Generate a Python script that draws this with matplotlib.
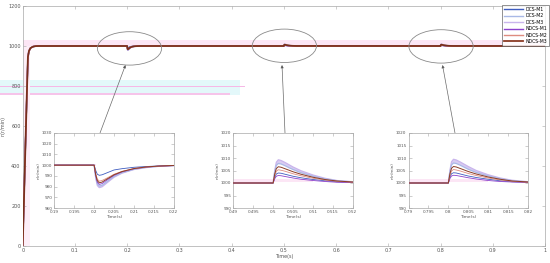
import matplotlib.pyplot as plt
from matplotlib.patches import Ellipse, Rectangle
import numpy as np

# series names / colours
labels = ['DCS-M1', 'DCS-M2', 'DCS-M3', 'NDCS-M1', 'NDCS-M2', 'NDCS-M3']
colors = ['#3e5cc0', '#a9b9e6', '#c9b5ec', '#8c42cc', '#de8c80', '#8b3b25']

# start-up (same for every controller)
t_start = [0, 0.002, 0.004, 0.006, 0.008, 0.010, 0.012, 0.015, 0.02, 0.025, 0.03]
n_start = [0, 190, 385, 575, 765, 945, 975, 990, 997, 999.5, 1000]

# load disturbances at these instants
event_times = [0.2, 0.5, 0.8]
dt = [0, 0.0004, 0.0008, 0.0013, 0.002, 0.003, 0.004, 0.005, 0.007, 0.010, 0.013, 0.016, 0.020, 0.025]

# speed deviation (r/min) after each event
dev_02 = {
    'DCS-M1':  [0, -5, -8.5, -9.5, -9, -7.5, -6, -4.5, -3.3, -2, -1.3, -0.8, -0.3, 0],
    'DCS-M2':  [0, -11, -17.5, -19.5, -18.8, -16, -13.2, -10.5, -7, -3.8, -2.1, -1.1, -0.4, 0],
    'DCS-M3':  [0, -12, -19, -21, -20.2, -17.2, -14.2, -11.3, -7.5, -4.1, -2.3, -1.2, -0.5, 0],
    'NDCS-M1': [0, -10, -16, -18, -17.2, -14.5, -12, -9.5, -6.3, -3.4, -1.9, -1, -0.4, 0],
    'NDCS-M2': [0, -8, -13, -15, -14.3, -12.5, -10.5, -8.5, -5.8, -3.2, -1.8, -1, -0.4, 0],
    'NDCS-M3': [0, -9, -14.5, -16.5, -15.8, -13.5, -11.3, -9, -6, -3.2, -1.7, -0.9, -0.3, 0],
}
dev_05 = {
    'DCS-M1':  [0, 2.2, 3.6, 4.0, 3.9, 3.5, 3.1, 2.7, 2.1, 1.4, 0.9, 0.5, 0.2, 0.1],
    'DCS-M2':  [0, 4.3, 7.0, 7.8, 7.6, 6.9, 6.1, 5.4, 4.1, 2.7, 1.6, 0.9, 0.4, 0.2],
    'DCS-M3':  [0, 5.0, 8.3, 9.3, 9.0, 8.2, 7.3, 6.4, 4.9, 3.2, 1.9, 1.0, 0.5, 0.2],
    'NDCS-M1': [0, 1.7, 2.7, 3.0, 2.9, 2.6, 2.3, 2.0, 1.5, 1.0, 0.6, 0.3, 0.2, 0.1],
    'NDCS-M2': [0, 2.9, 4.7, 5.3, 5.1, 4.7, 4.2, 3.7, 2.9, 1.9, 1.2, 0.7, 0.3, 0.1],
    'NDCS-M3': [0, 3.6, 5.8, 6.5, 6.3, 5.7, 5.1, 4.5, 3.5, 2.3, 1.4, 0.8, 0.4, 0.2],
}
dev_08 = {
    'DCS-M1':  [0, 2.3, 3.7, 4.1, 4.0, 3.6, 3.2, 2.8, 2.2, 1.5, 0.9, 0.5, 0.3, 0.1],
    'DCS-M2':  [0, 4.4, 7.2, 8.0, 7.8, 7.1, 6.3, 5.5, 4.2, 2.8, 1.7, 0.9, 0.4, 0.2],
    'DCS-M3':  [0, 5.1, 8.5, 9.5, 9.2, 8.4, 7.5, 6.6, 5.0, 3.3, 2.0, 1.1, 0.5, 0.2],
    'NDCS-M1': [0, 1.8, 2.8, 3.1, 3.0, 2.7, 2.4, 2.1, 1.6, 1.0, 0.6, 0.4, 0.2, 0.1],
    'NDCS-M2': [0, 3.0, 4.8, 5.4, 5.2, 4.8, 4.3, 3.8, 3.0, 2.0, 1.2, 0.7, 0.3, 0.1],
    'NDCS-M3': [0, 3.7, 5.9, 6.6, 6.4, 5.8, 5.2, 4.6, 3.6, 2.4, 1.5, 0.8, 0.4, 0.2],
}
devs = [dev_02, dev_05, dev_08]

# inset ranges
inset_xlim = [(0.19, 0.22), (0.49, 0.52), (0.79, 0.82)]
inset_ylim = [(960, 1030), (990, 1020), (990, 1020)]
inset_xticks = [[0.19, 0.195, 0.2, 0.205, 0.21, 0.215, 0.22],
                [0.49, 0.495, 0.5, 0.505, 0.51, 0.515, 0.52],
                [0.79, 0.795, 0.8, 0.805, 0.81, 0.815, 0.82]]
inset_xticklabels = [['0.19', '0.195', '0.2', '0.205', '0.21', '0.215', '0.22'],
                     ['0.49', '0.495', '0.5', '0.505', '0.51', '0.515', '0.52'],
                     ['0.79', '0.795', '0.8', '0.805', '0.81', '0.815', '0.82']]
inset_yticks = [[960, 970, 980, 990, 1000, 1010, 1020, 1030],
                [990, 995, 1000, 1005, 1010, 1015, 1020],
                [990, 995, 1000, 1005, 1010, 1015, 1020]]
# faint pink band seen behind the flat part in the zooms
inset_band = [(0.19, 0.2005, 999.0, 1001.5), (0.49, 0.51, 1000.3, 1001.8), (0.79, 0.81, 1000.3, 1001.8)]


def build(name):
    t = list(t_start)
    n = list(n_start)
    for te, dev in zip(event_times, devs):
        t += [te - 0.02] + [te + d for d in dt]
        n += [1000] + [1000 + v for v in dev[name]]
    t.append(1.0)
    n.append(1000)
    return np.array(t), np.array(n)


series = {name: build(name) for name in labels}
lw = {'DCS-M1': 0.6, 'DCS-M2': 0.9, 'DCS-M3': 0.9, 'NDCS-M1': 0.6, 'NDCS-M2': 0.6, 'NDCS-M3': 0.7}
zo = {'DCS-M3': 2, 'DCS-M2': 2.1, 'DCS-M1': 3, 'NDCS-M1': 3.1, 'NDCS-M2': 3.2, 'NDCS-M3': 3.3}

GRAY = '#a8a8a8'
TXT = '#555555'


def style(ax, fs):
    for s in ax.spines.values():
        s.set_color(GRAY)
        s.set_linewidth(0.5)
    ax.tick_params(direction='in', top=True, right=True, length=2, width=0.4,
                   color=GRAY, labelsize=fs, labelcolor=TXT, pad=1.5)


fig = plt.figure(figsize=(5.5, 2.63), dpi=100)

# rendering glitches visible in the reference
fig.patches.append(Rectangle((0, 1 - 95 / 263), 240 / 550, 15 / 263, transform=fig.transFigure,
                             facecolor='#e3f8fa', edgecolor='none', zorder=-5))
fig.patches.append(Rectangle((0, 1 - 87 / 263), 245 / 550, 1.2 / 263, transform=fig.transFigure,
                             facecolor='#f6b8e6', edgecolor='none', zorder=-4))
fig.patches.append(Rectangle((0, 1 - 94.5 / 263), 230 / 550, 1.2 / 263, transform=fig.transFigure,
                             facecolor='#f6c4ea', edgecolor='none', zorder=-4))

ax = fig.add_axes([22.7 / 550, 1 - 246 / 263, 522.3 / 550, 240 / 263])
ax.patch.set_alpha(0)
ax.fill_between([0.0, 1.0], 998, 1030, color='#fce6f5', lw=0, zorder=1)
ax.fill_between([-0.008, 0.014], 0, 1000, color='#fdeef8', lw=0, zorder=1)
for name, c in zip(labels, colors):
    t, n = series[name]
    ax.plot(t, n, color=c, lw=1.3 if name == 'NDCS-M3' else 1.0, label=name, zorder=zo[name])
ax.plot(series['NDCS-M3'][0], series['NDCS-M3'][1], color='#5a2010', lw=0.3, zorder=4)
ax.set_xlim(0, 1)
ax.set_ylim(0, 1200)
ax.set_xticks(np.arange(0, 1.01, 0.1))
ax.set_xticklabels(['0', '0.1', '0.2', '0.3', '0.4', '0.5', '0.6', '0.7', '0.8', '0.9', '1'])
ax.set_yticks([0, 200, 400, 600, 800, 1000, 1200])
style(ax, 3.5)
ax.set_xlabel('Time(s)', fontsize=3.5, color=TXT, labelpad=1)
ax.set_ylabel('n(r/min)', fontsize=3.5, color=TXT, labelpad=2)

leg = ax.legend(loc='upper right', bbox_to_anchor=(549 / 550, 1 - 5 / 263),
                bbox_transform=fig.transFigure, fontsize=3.3, frameon=True,
                fancybox=False, edgecolor='#404040', handlelength=4.2,
                labelspacing=0.3, borderpad=0.45, handletextpad=0.5,
                borderaxespad=0)
leg.get_frame().set_linewidth(0.5)
leg.set_zorder(10)

# ellipses around the disturbances
ell_cx = [0.2045, 0.501, 0.801]
ell_cy = [988, 1001, 998]
for cx, cy in zip(ell_cx, ell_cy):
    ax.add_patch(Ellipse((cx, cy), 0.123, 167, fill=False, ec='#8a8a8a', lw=0.6, zorder=6))

# arrows from insets to ellipses (figure pixels)
arrow_tail = [(100, 133), (285, 133), (455, 133)]
arrow_head = [(125.5, 65), (282, 65), (442.5, 65)]
for (x0, y0), (x1, y1) in zip(arrow_tail, arrow_head):
    ax.annotate('', xy=(x1 / 550, 1 - y1 / 263), xytext=(x0 / 550, 1 - y0 / 263),
                xycoords='figure fraction', textcoords='figure fraction',
                arrowprops=dict(arrowstyle='-|>', color='#6a6a6a', lw=0.5,
                                mutation_scale=4, shrinkA=0, shrinkB=0,
                                fc='#202020'), zorder=7)

inset_left = [54.3, 233.3, 408.5]
for k in range(3):
    ia = fig.add_axes([inset_left[k] / 550, 1 - 208 / 263, 119.5 / 550, 75 / 263])
    ia.set_zorder(5)
    x0, x1, y0, y1 = inset_band[k]
    ia.fill_between([x0, x1], y0, y1, color='#fce6f5', lw=0, zorder=0.5)
    t2, n2 = series['DCS-M2']
    t3, n3 = series['DCS-M3']
    ia.fill_between(t3, n2, n3, color='#d8ccf2', lw=0, zorder=1)
    for name, c in zip(labels, colors):
        t, n = series[name]
        ia.plot(t, n, color=c, lw=lw[name], zorder=zo[name])
    ia.set_xlim(*inset_xlim[k])
    ia.set_ylim(*inset_ylim[k])
    ia.set_xticks(inset_xticks[k])
    ia.set_xticklabels(inset_xticklabels[k])
    ia.set_yticks(inset_yticks[k])
    style(ia, 3.0)
    ia.set_xlabel('Time(s)', fontsize=3.2, color=TXT, labelpad=0.5)
    ia.set_ylabel('n(r/min)', fontsize=3.0, color=TXT, labelpad=1)

fig.savefig('out.png', dpi=100)
